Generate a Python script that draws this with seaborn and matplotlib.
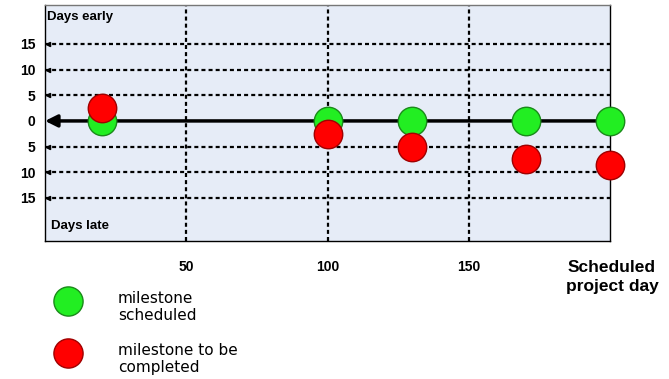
import pandas as pd
import matplotlib.pyplot as plt
import seaborn as sns
from matplotlib.lines import Line2D

# milestone data: scheduled project day, deviation in days (+ early / - late)
days = [20, 100, 130, 170, 200]
scheduled = [0, 0, 0, 0, 0]
completed = [2.5, -2.5, -5, -7.5, -8.5]
series = ["milestone scheduled", "milestone to be completed"]
colors = ["#22ee22", "#ff0000"]
edges = ["#1a8a1a", "#a00000"]

y_ticks = [-15, -10, -5, 0, 5, 10, 15]
y_labels = [str(abs(v)) for v in y_ticks]
x_ticks = [50, 100, 150]

df = pd.DataFrame({
    "day": days + days,
    "dev": scheduled + completed,
    "series": [series[0]] * len(days) + [series[1]] * len(days),
})

sns.set_style("white", {"text.color": "black", "xtick.color": "black",
                        "ytick.color": "black"})
plt.rcParams["font.family"] = ["Liberation Sans", "DejaVu Sans"]

fig = plt.figure(figsize=(6.69, 3.79), dpi=100)
ax = fig.add_axes([0.0673, 0.364, 0.845, 0.623])
ax.set_facecolor("#e6ecf7")

# dotted grid lines
dot = (0, (1.8, 1.4))
for v in y_ticks:
    if v != 0:
        ax.axhline(v, color="black", lw=1.6, ls=dot, zorder=1)
        ax.plot([1.2], [v], marker="<", color="black", ms=3, zorder=1)
for v in x_ticks:
    ax.axvline(v, color="black", lw=1.6, ls=dot, zorder=1)

# zero line with arrow pointing left
ax.annotate("", xy=(0, 0), xytext=(days[-1], 0),
            arrowprops=dict(arrowstyle="-|>", color="black", lw=2.5,
                            mutation_scale=18, shrinkA=0, shrinkB=0),
            zorder=2)

for name, c, e in zip(series, colors, edges):
    sns.scatterplot(data=df[df["series"] == name], x="day", y="dev",
                    color=c, edgecolor=e, linewidth=1, s=420,
                    ax=ax, zorder=3, clip_on=False, legend=False)

ax.set_xlim(0, 200)
ax.set_ylim(-23.4, 22.6)
ax.set_yticks(y_ticks)
ax.set_yticklabels(y_labels, fontsize=10, fontweight="bold")
ax.set_xticks(x_ticks)
ax.set_xticklabels([str(v) for v in x_ticks], fontsize=10, fontweight="bold")
ax.tick_params(axis="x", length=0, pad=14)
ax.tick_params(axis="y", length=0, pad=7)
ax.set_xlabel("")
ax.set_ylabel("")
for sp in ax.spines.values():
    sp.set_color("black")
    sp.set_linewidth(1)
ax.spines["top"].set_color("#777777")

ax.text(0.004, 0.975, "Days early", transform=ax.transAxes, fontsize=9.5,
        fontweight="bold", va="top", ha="left")
ax.text(0.01, 0.04, "Days late", transform=ax.transAxes, fontsize=9.5,
        fontweight="bold", va="bottom", ha="left")

fig.text(612 / 669, 1 - 277 / 379, "Scheduled\nproject day", fontsize=12.5,
         fontweight="bold", ha="center", va="center", linespacing=1.25)

# legend below the chart
for i, (name, c, e) in enumerate(zip(series, colors, edges)):
    y = 1 - (301 + 52 * i) / 379
    fig.add_artist(Line2D([68 / 669], [y], marker="o", ms=21, color=c,
                          markeredgecolor=e, markeredgewidth=1,
                          transform=fig.transFigure, ls=""))
labels = ["milestone\nscheduled", "milestone to be\ncompleted"]
for i, lab in enumerate(labels):
    y = 1 - (291 + 52 * i) / 379
    fig.text(118 / 669, y, lab, fontsize=11, family="DejaVu Sans",
             va="top", ha="left", linespacing=1.2)

plt.savefig("out.png", dpi=100)
